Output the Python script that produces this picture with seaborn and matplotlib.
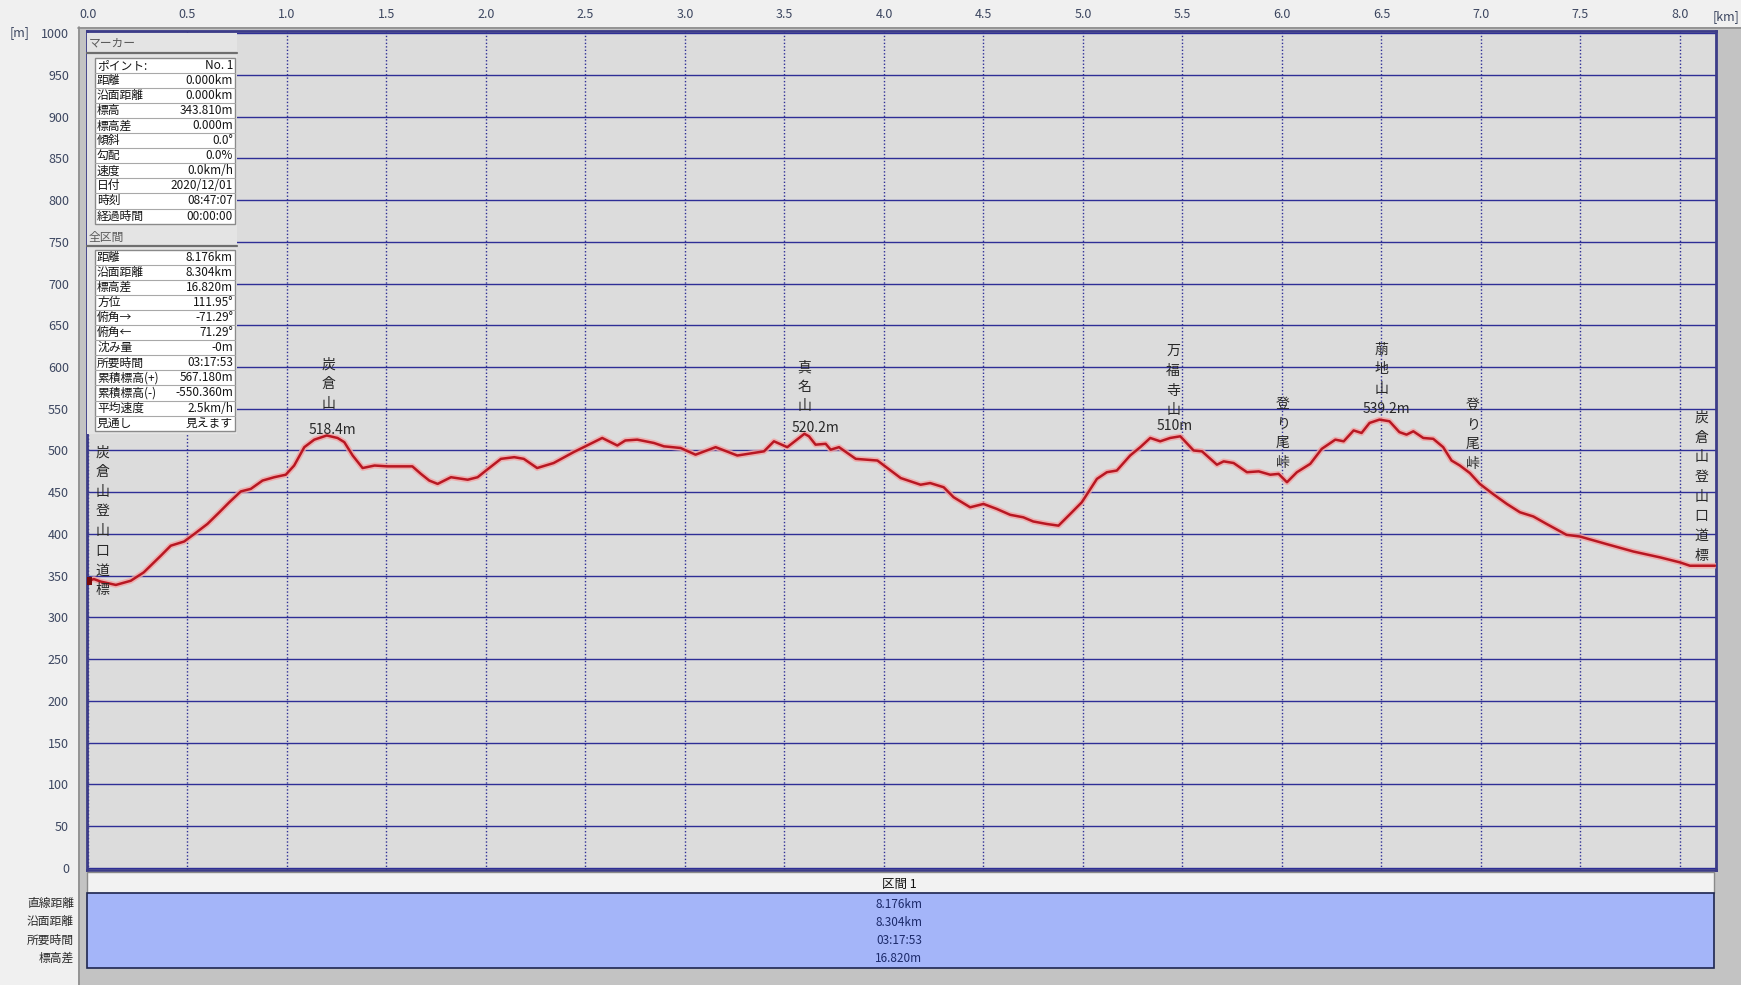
import numpy as np
import pandas as pd
import matplotlib
matplotlib.use("Agg")
import matplotlib.pyplot as plt
import seaborn as sns
from matplotlib.patches import Rectangle
from matplotlib.lines import Line2D

# ---------------- data ----------------
dist_km = [0.00, 0.03, 0.064, 0.14, 0.215, 0.28, 0.366, 0.416, 0.483, 0.534, 0.60, 0.66, 0.71,
           0.768, 0.818, 0.877, 0.936, 0.994, 1.036, 1.087, 1.137, 1.20, 1.254, 1.288, 1.33,
           1.38, 1.44, 1.506, 1.63, 1.673, 1.715, 1.757, 1.824, 1.908, 1.958, 2.0, 2.075,
           2.142, 2.19, 2.257, 2.34, 2.44, 2.508, 2.584, 2.66, 2.70, 2.76, 2.844, 2.894,
           2.978, 3.053, 3.154, 3.263, 3.397, 3.447, 3.514, 3.60, 3.623, 3.656, 3.707, 3.732,
           3.774, 3.858, 3.967, 4.017, 4.084, 4.184, 4.232, 4.30, 4.35, 4.433, 4.5, 4.567,
           4.634, 4.70, 4.75, 4.818, 4.877, 4.936, 4.994, 5.07, 5.12, 5.17, 5.237, 5.288,
           5.338, 5.388, 5.438, 5.489, 5.556, 5.598, 5.673, 5.707, 5.757, 5.824, 5.883, 5.941,
           5.983, 6.025, 6.075, 6.142, 6.2, 6.268, 6.31, 6.36, 6.40, 6.44, 6.49, 6.54, 6.59,
           6.626, 6.66, 6.71, 6.76, 6.81, 6.852, 6.894, 6.944, 6.994, 7.06, 7.13, 7.196,
           7.263, 7.33, 7.43, 7.497, 7.63, 7.766, 7.90, 8.00, 8.05, 8.176]
elev_m = [344, 346, 343, 339, 344, 354, 374, 386, 391, 400, 412, 426, 438,
          451, 454, 464, 468, 471, 482, 504, 513, 518, 515, 510, 494,
          479, 482, 481, 481, 472, 464, 460, 468, 465, 468, 476, 490,
          492, 490, 479, 485, 498, 506, 515, 506, 512, 513, 509, 505,
          503, 495, 504, 494, 499, 511, 504, 520, 517, 507, 508, 501,
          504, 490, 488, 479, 467, 459, 461, 456, 444, 432, 436, 430,
          423, 420, 415, 412, 410, 424, 438, 466, 474, 476, 494, 504,
          515, 511, 515, 517, 500, 499, 483, 487, 485, 474, 475, 471,
          472, 462, 474, 484, 502, 513, 511, 524, 521, 533, 537, 535, 522,
          519, 523, 515, 514, 504, 488, 482, 473, 460, 448, 436, 426,
          421, 412, 399, 397, 388, 379, 372, 366, 362, 362]

x_ticks = [0.0, 0.5, 1.0, 1.5, 2.0, 2.5, 3.0, 3.5, 4.0, 4.5, 5.0, 5.5, 6.0, 6.5, 7.0, 7.5, 8.0]
y_ticks = list(range(0, 1001, 50))

# landmark labels: (name, x km, elevation of first char, height label, label x, label y)
landmarks = [
    ("炭倉山登山口道標", 0.073, 498, "", 0, 0),
    ("炭倉山", 1.21, 603, "518.4m", 1.226, 524),
    ("真名山", 3.60, 600, "520.2m", 3.654, 527),
    ("万福寺山", 5.453, 619, "510m", 5.463, 529),
    ("登り尾峠", 6.004, 556, "", 0, 0),
    ("萠地山", 6.498, 621, "539.2m", 6.523, 550),
    ("登り尾峠", 6.959, 555, "", 0, 0),
    ("炭倉山登山口道標", 8.107, 539, "", 0, 0),
]

marker_labels = ["ポイント:", "距離", "沿面距離", "標高", "標高差", "傾斜", "勾配", "速度",
                 "日付", "時刻", "経過時間"]
marker_values = ["No. 1", "0.000km", "0.000km", "343.810m", "0.000m", "0.0°", "0.0%",
                 "0.0km/h", "2020/12/01", "08:47:07", "00:00:00"]
total_labels = ["距離", "沿面距離", "標高差", "方位", "俯角→", "俯角←", "沈み量", "所要時間",
                "累積標高(+)", "累積標高(-)", "平均速度", "見通し"]
total_values = ["8.176km", "8.304km", "16.820m", "111.95°", "-71.29°", "71.29°", "-0m",
                "03:17:53", "567.180m", "-550.360m", "2.5km/h", "見えます"]

section_row_labels = ["直線距離", "沿面距離", "所要時間", "標高差"]
section_values = ["8.176km", "8.304km", "03:17:53", "16.820m"]
section_title = "区間 1"

# ---------------- style ----------------
sns.set_style("white")
plt.rcParams["font.family"] = ["Noto Sans CJK JP", "DejaVu Sans"]
plt.rcParams["axes.unicode_minus"] = False

W, H = 1741, 985
fig = plt.figure(figsize=(W / 100, H / 100), dpi=100)
fig.patch.set_facecolor("#f0f0f0")


def fx(x):
    return x / W


def fy(y):
    return 1 - y / H


def rect(x0, y0, x1, y1, **kw):
    fig.patches.append(Rectangle((fx(x0), fy(y1)), (x1 - x0) / W, (y1 - y0) / H,
                                 transform=fig.transFigure, **kw))


def hline(x0, x1, y, **kw):
    fig.lines.append(Line2D([fx(x0), fx(x1)], [fy(y), fy(y)], transform=fig.transFigure, **kw))


def vline(x, y0, y1, **kw):
    fig.lines.append(Line2D([fx(x), fx(x)], [fy(y0), fy(y1)], transform=fig.transFigure, **kw))


# gray frame behind the chart
rect(78, 27, W, H, fc="#c3c3c3", ec="none", zorder=-5)
vline(78.5, 27, H, color="#8c8c8c", lw=1.2, zorder=-4)
hline(78, W, 27.5, color="#8c8c8c", lw=1.2, zorder=-4)

# ---------------- main axes ----------------
L, R_, T, B = 87, 1716, 31, 870
ax = fig.add_axes([fx(L), fy(B), (R_ - L) / W, (B - T) / H])
ax.set_facecolor("#dcdcdc")

df = pd.DataFrame({"dist": dist_km, "elev": elev_m})
sns.lineplot(data=df, x="dist", y="elev", ax=ax, color="#f2a4a4", lw=4.2, alpha=0.8,
             zorder=4, estimator=None, sort=False)
sns.lineplot(data=df, x="dist", y="elev", ax=ax, color="#b81722", lw=1.8,
             zorder=5, estimator=None, sort=False)
start_df = pd.DataFrame({"dist": [dist_km[0]], "elev": [343.81]})
sns.scatterplot(data=start_df, x="dist", y="elev", ax=ax, marker="s", s=28, color="#7a0a0a",
                edgecolor="none", zorder=6)

ax.set_xlim(-0.005, 8.181)
ax.set_ylim(-2.4, 1002.4)
ax.set_xticks(x_ticks)
ax.set_xticklabels([f"{v:.1f}" for v in x_ticks])
ax.set_yticks(y_ticks)
ax.set_yticklabels([str(v) for v in y_ticks])
ax.xaxis.tick_top()
ax.tick_params(axis="x", length=0, pad=7, labelsize=9, colors="#3c4660")
ax.tick_params(axis="y", length=0, pad=13, labelsize=9, colors="#3c4660")
ax.set_xlabel("")
ax.set_ylabel("")
ax.grid(axis="y", color="#2e2e96", lw=1.0, ls="-")
ax.grid(axis="x", color="#2e2e96", lw=1.0, ls=(0, (1, 1.5)))
ax.set_axisbelow(True)
for s in ax.spines.values():
    s.set_color("#3c3c88")
    s.set_linewidth(2)

# landmark labels
for name, xk, ytop, hl, hx, hy in landmarks:
    for i, ch in enumerate(name):
        ax.text(xk, ytop - i * 23.6, ch, ha="center", va="center", fontsize=10,
                color="#282828", zorder=7)
    if hl:
        ax.text(hx, hy, hl, ha="center", va="center", fontsize=10, color="#282828", zorder=7)

# unit labels
fig.text(fx(10), fy(33), "[m]", ha="left", va="center", fontsize=9, color="#3c4660")
fig.text(fx(1739), fy(17), "[km]", ha="right", va="center", fontsize=9, color="#3c4660")

# ---------------- info panel (top-left) ----------------
rect(87, 33, 237, 434, fc="#e4e4e4", ec="none", zorder=2)
fig.text(fx(89), fy(43), "マーカー", ha="left", va="center", fontsize=8.5, color="#5a5a5a", zorder=3)
hline(87, 237, 53, color="#6e6e6e", lw=1.6, zorder=3)
fig.text(fx(89), fy(237), "全区間", ha="left", va="center", fontsize=8.5, color="#5a5a5a", zorder=3)
hline(87, 237, 245.5, color="#6e6e6e", lw=1.6, zorder=3)


def info_table(y0, labels, values, rowh=15.05):
    y1 = y0 + rowh * len(labels)
    rect(95, y0, 235, y1, fc="white", ec="#8a8a8a", lw=1.0, zorder=3)
    for i, (lab, val) in enumerate(zip(labels, values)):
        yc = y0 + rowh * (i + 0.5)
        if i > 0:
            hline(95, 235, y0 + rowh * i, color="#a8a8a8", lw=0.8, zorder=4)
        fig.text(fx(97), fy(yc), lab, ha="left", va="center", fontsize=8.5, color="#141414", zorder=5)
        fig.text(fx(233), fy(yc), val, ha="right", va="center", fontsize=8.5, color="#141414", zorder=5)


info_table(58, marker_labels, marker_values)
info_table(250, total_labels, total_values)

# ---------------- section table (bottom) ----------------
rect(87, 872, 1714, 893, fc="#f2f2f2", ec="#8a8a8a", lw=1.0, zorder=2)
rect(87, 893, 1714, 968, fc="#a4b5f9", ec="#1e2650", lw=1.2, zorder=2)
fig.text(fx(899), fy(884), section_title, ha="center", va="center", fontsize=9, color="#111111", zorder=3)
row_y = [904, 922, 940, 958]
for yy, lab, val in zip(row_y, section_row_labels, section_values):
    fig.text(fx(74), fy(yy), lab, ha="right", va="center", fontsize=8.5, color="#2a2a2a", zorder=3)
    fig.text(fx(899), fy(yy), val, ha="center", va="center", fontsize=8.5, color="#1c2a6a", zorder=3)

fig.savefig("out.png", dpi=100, facecolor=fig.get_facecolor())
